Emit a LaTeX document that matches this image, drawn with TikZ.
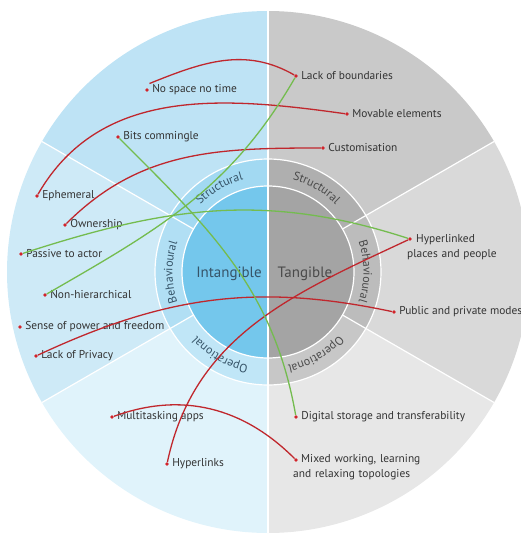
\documentclass[tikz,border=0pt]{standalone}
\usepackage{fontspec}
\setmainfont{PT Sans}
\usetikzlibrary{positioning,decorations.text}
\definecolor{IntOuterA}{HTML}{BEE3F5}
\definecolor{IntOuterB}{HTML}{CEEAF7}
\definecolor{IntOuterC}{HTML}{E0F3FB}
\definecolor{IntRingA}{HTML}{A2D9F2}
\definecolor{IntRingB}{HTML}{B1DFF4}
\definecolor{IntRingC}{HTML}{C0E6F7}
\definecolor{IntCore}{HTML}{74C7EC}
\definecolor{TanOuterA}{HTML}{C9C9C9}
\definecolor{TanOuterB}{HTML}{D9D9D9}
\definecolor{TanOuterC}{HTML}{E7E7E7}
\definecolor{TanRingA}{HTML}{AFAFAF}
\definecolor{TanRingB}{HTML}{BCBCBC}
\definecolor{TanRingC}{HTML}{C7C7C7}
\definecolor{TanCore}{HTML}{A4A4A4}
\definecolor{LinkRed}{HTML}{C0272D}
\definecolor{LinkGreen}{HTML}{74BC4F}
\definecolor{DotRed}{HTML}{D2232A}
\definecolor{LabelGrey}{HTML}{333333}
\definecolor{IntText}{HTML}{365468}
\definecolor{TanText}{HTML}{4A4A4A}
\newcommand\ringfont{\fontsize{12}{14}\selectfont}

\begin{document}
\begin{tikzpicture}[x=1pt,y=1pt,
  divider/.style={white,line width=1.2pt},
  dot/.style={circle,fill=DotRed,inner sep=0pt,minimum size=3.8pt},
  lbl/.style={font=\fontsize{11.4}{15}\selectfont,text=LabelGrey,inner sep=0pt},
  twoline/.style={lbl,text width=160pt,align=left,anchor=north west},
  half/.style={font=\fontsize{15}{17}\selectfont},
  ringtext/.style={decorate,decoration={text along path,text align=center}},
  redlink/.style={LinkRed,line width=1.3pt},
  greenlink/.style={LinkGreen,line width=1.3pt}]
\useasboundingbox (-268,-267) rectangle (253,272);

% outer sectors, ring, core
\foreach \a/\b/\c in {90/150/IntOuterA,150/210/IntOuterB,210/270/IntOuterC,30/90/TanOuterA,-30/30/TanOuterB,-90/-30/TanOuterC}
  \fill[\c] (0,0) -- (\a:261) arc[start angle=\a,end angle=\b,radius=261] -- cycle;
\foreach \a/\b/\c in {90/150/IntRingA,150/210/IntRingB,210/270/IntRingC,30/90/TanRingA,-30/30/TanRingB,-90/-30/TanRingC}
  \fill[\c] (0,0) -- (\a:113) arc[start angle=\a,end angle=\b,radius=113] -- cycle;
\fill[IntCore] (90:86) arc[start angle=90,end angle=270,radius=86] -- cycle;
\fill[TanCore] (-90:86) arc[start angle=-90,end angle=90,radius=86] -- cycle;
\draw[divider] (0,0) circle[radius=86] (0,0) circle[radius=113];
\draw[divider] (0,-261) -- (0,261);
\foreach \a in {30,150,210,330}
  \draw[divider] (\a:86) -- (\a:261);

% ring labels
\path[ringtext,decoration={text={|\ringfont|Structural},text color=IntText}] (150:95.5) arc[start angle=150,end angle=90,radius=95.5];
\path[ringtext,decoration={text={|\ringfont|Behavioural},text color=IntText}] (210:95.5) arc[start angle=210,end angle=150,radius=95.5];
\path[ringtext,decoration={text={|\ringfont|Operational},text color=IntText}] (270:95.5) arc[start angle=270,end angle=210,radius=95.5];
\path[ringtext,decoration={text={|\ringfont|Structural},text color=TanText}] (90:95.5) arc[start angle=90,end angle=30,radius=95.5];
\path[ringtext,decoration={text={|\ringfont|Behavioural},text color=TanText}] (30:95.5) arc[start angle=30,end angle=-30,radius=95.5];
\path[ringtext,decoration={text={|\ringfont|Operational},text color=TanText}] (-30:95.5) arc[start angle=-30,end angle=-90,radius=95.5];

\node[half,text=IntText] (intang) at (-39,-2) {Intangible};
\node[half,text=TanText] (tang) at (37,-2) {Tangible};

% intangible side
\node[dot] (nospace-d) at (-121,182) {};
\node[lbl,right=3pt of nospace-d] (nospace) {No space no time};
\coordinate[above right=5pt and 1pt of nospace-d] (nospace-t);
\node[dot] (bits-d) at (-150,135) {};
\node[lbl,right=3pt of bits-d] (bits) {Bits commingle};
\node[dot] (ephem-d) at (-231,76) {};
\node[lbl,right=3pt of ephem-d] (ephem) {Ephemeral};
\node[dot] (owner-d) at (-203,47) {};
\node[lbl,right=3pt of owner-d] (owner) {Ownership};
\node[dot] (passive-d) at (-247,18) {};
\node[lbl,right=3pt of passive-d] (passive) {Passive to actor};
\node[dot] (nonhier-d) at (-223,-23) {};
\node[lbl,right=3pt of nonhier-d] (nonhier) {Non-hierarchical};
\node[dot] (sense-d) at (-248,-55) {};
\node[lbl,right=3pt of sense-d] (sense) {Sense of power and freedom};
\node[dot] (privacy-d) at (-232,-84) {};
\node[lbl,right=3pt of privacy-d] (privacy) {Lack of Privacy};
\node[dot] (multi-d) at (-156,-145) {};
\node[lbl,right=3pt of multi-d] (multi) {Multitasking apps};
\node[dot] (hlinks-d) at (-101,-192) {};
\node[lbl,right=3pt of hlinks-d] (hlinks) {Hyperlinks};

% tangible side
\node[dot] (lackb-d) at (28,196) {};
\node[lbl,right=3pt of lackb-d] (lackb) {Lack of boundaries};
\node[dot] (movable-d) at (79,158) {};
\node[lbl,right=3pt of movable-d] (movable) {Movable elements};
\node[dot] (custom-d) at (55,124) {};
\node[lbl,right=3pt of custom-d] (custom) {Customisation};
\node[dot] (hplaces-d) at (142,33) {};
\node[twoline] (hplaces) at (139,38) {\noindent\hspace*{9pt}Hyperlinked\\places and people};
\node[dot] (public-d) at (126,-40) {};
\node[lbl,right=3pt of public-d] (public) {Public and private modes};
\node[dot] (digital-d) at (28,-145) {};
\node[lbl,right=3pt of digital-d] (digital) {Digital storage and transferability};
\node[dot] (mixed-d) at (28,-188) {};
\node[twoline] (mixed) at (25,-182.5) {\noindent\hspace*{8pt}Mixed working, learning\\and relaxing topologies};

% links
\draw[redlink] (nospace-t) to[out=22,in=150] (lackb-d);
\draw[redlink] (ephem-d) to[out=60,in=172] (movable-d);
\draw[redlink] (owner-d) to[out=45,in=180] (custom-d);
\draw[redlink] (privacy-d) to[out=25,in=168] (public-d);
\draw[redlink] (hlinks-d) to[out=78,in=205] (hplaces-d);
\draw[redlink] (multi-d) to[out=20,in=135] (mixed-d);
\draw[greenlink] (bits-d) to[out=-45,in=100] (digital-d);
\draw[greenlink] (passive-d) to[out=18,in=162] (hplaces-d);
\draw[greenlink] (nonhier-d) to[out=30,in=240] (lackb-d);
\end{tikzpicture}
\end{document}
